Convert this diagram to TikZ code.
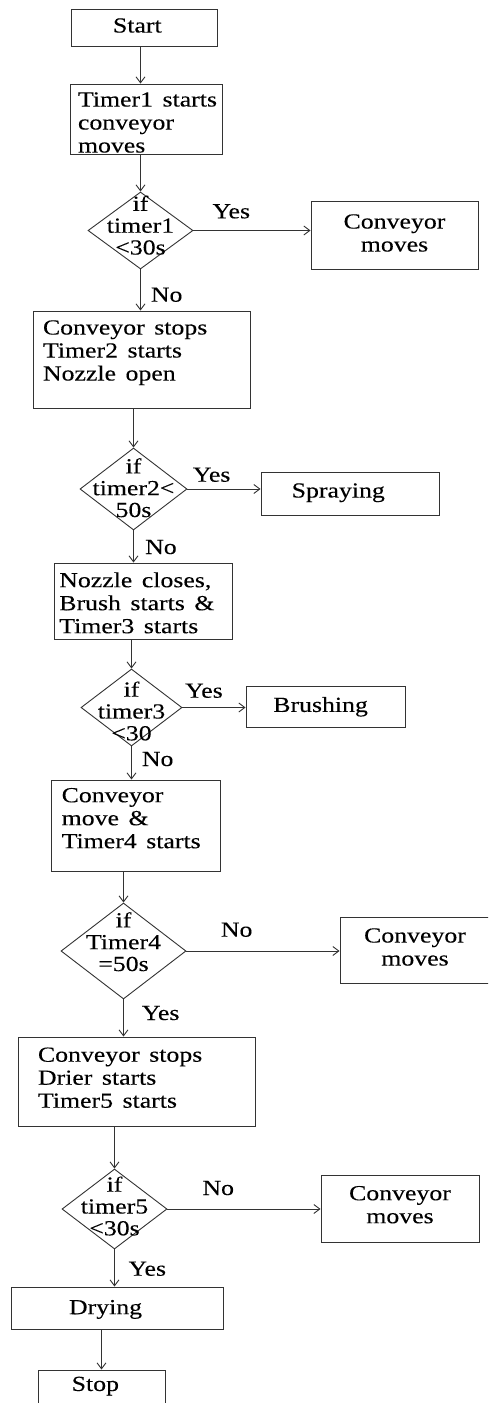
\documentclass[tikz,border=0pt]{standalone}
\usepackage{fontspec}
\setmainfont{Liberation Serif}[FakeStretch=1.2,FakeBold=0.15]
\usetikzlibrary{shapes.geometric,arrows.meta}
% #1 width, #2 alignment (l/c), #3 text, #4 vertical raise
\newcommand\boxtext[4]{\raisebox{#4}[0pt][0pt]{\makebox[#1][#2]{\spaceskip=9.5pt\relax\begin{tabular}[c]{@{}#2@{}}#3\end{tabular}}}}
\newcommand\dtext[2]{\raisebox{#2}[0pt][0pt]{\makebox[0pt][c]{\renewcommand\arraystretch{0.95}\begin{tabular}[c]{@{}c@{}}#1\end{tabular}}}}
\tikzset{
  every node/.style={font=\fontsize{21.5}{23}\selectfont, text=black},
  proc/.style={draw=black!80, line width=0.9pt, rectangle, inner ysep=0pt},
  dec/.style={draw=black!80, line width=0.9pt, diamond, inner sep=0pt},
  arr/.style={draw=black!80, line width=0.9pt, -{Straight Barb[length=6pt,width=9pt]}},
  lab/.style={anchor=base west, inner sep=0pt},
}
\begin{document}
\begin{tikzpicture}[x=1pt,y=-1pt]
\clip (0,0) rectangle (488,1403);
\fill[white] (0,0) rectangle (488,1403);

% process boxes
\node[proc, inner xsep=42pt, minimum width=146pt, minimum height=37pt] (start) at (144,27.5) {\boxtext{62pt}{l}{Start}{-5.6pt}};
\node[proc, inner xsep=8pt, minimum width=152pt, minimum height=70pt] (t1) at (146,119) {\boxtext{136pt}{l}{Timer1 starts\\conveyor\\moves}{-11.1pt}};
\node[proc, inner xsep=0pt, minimum width=167pt, minimum height=68pt] (cm1) at (394.5,235) {\boxtext{167pt}{c}{Conveyor\\moves}{-5.6pt}};
\node[proc, inner xsep=10pt, minimum width=217pt, minimum height=97pt] (cs) at (141.5,359.5) {\boxtext{197pt}{l}{Conveyor stops\\Timer2 starts\\Nozzle open}{1.4pt}};
\node[proc, inner xsep=30.7pt, minimum width=178pt, minimum height=43pt] (spr) at (350,493.5) {\boxtext{116.6pt}{l}{Spraying}{-4.6pt}};
\node[proc, inner xsep=5.3pt, minimum width=178pt, minimum height=76pt] (nc) at (143,601) {\boxtext{167.4pt}{l}{Nozzle closes,\\Brush starts \&\\Timer3 starts}{-9.8pt}};
\node[proc, inner xsep=27.3pt, minimum width=159pt, minimum height=41pt] (br) at (325.5,706.5) {\boxtext{104.4pt}{l}{Brushing}{-6pt}};
\node[proc, inner xsep=10.7pt, minimum width=169pt, minimum height=91pt] (cm2) at (135.5,825.5) {\boxtext{147.6pt}{l}{Conveyor\\move \&\\Timer4 starts}{-0.3pt}};
\node[proc, inner xsep=0pt, minimum width=150pt, minimum height=66pt] (cm4) at (415,950) {\boxtext{150pt}{c}{Conveyor\\moves}{-4.6pt}};
\node[proc, inner xsep=20pt, minimum width=237pt, minimum height=89pt] (ds) at (136.5,1081.5) {\boxtext{197pt}{l}{Conveyor stops\\Drier starts\\Timer5 starts}{-3.8pt}};
\node[proc, inner xsep=0pt, minimum width=158pt, minimum height=67pt] (cm5) at (400,1208.5) {\boxtext{150pt}{c}{Conveyor\\moves}{-3.8pt}};
\node[proc, inner xsep=58pt, minimum width=212pt, minimum height=42pt] (dry) at (117,1308) {\boxtext{96pt}{l}{Drying}{-6.8pt}};
\node[proc, inner xsep=33.7pt, minimum width=127pt, minimum height=42pt] (stop) at (101.5,1391) {\boxtext{59.6pt}{l}{Stop}{-0.5pt}};

% decisions
\node[dec, minimum width=105pt, minimum height=77pt] (d1) at (140.5,230.5) {\dtext{if\\timer1\\<30s}{-3pt}};
\node[dec, minimum width=107pt, minimum height=82pt] (d2) at (133.5,489) {\dtext{if\\timer2<\\50s}{-7pt}};
\node[dec, minimum width=101pt, minimum height=77pt] (d3) at (131.5,707.5) {\dtext{if\\timer3\\<30}{-11.8pt}};
\node[dec, minimum width=125pt, minimum height=96pt] (d4) at (123.5,951) {\dtext{if\\Timer4\\=50s}{1pt}};
\node[dec, minimum width=105pt, minimum height=80pt] (d5) at (114.5,1209) {\dtext{if\\timer5\\<30s}{-5.3pt}};

% connectors
\draw[arr] (start.south -| d1.north) -- (t1.north -| d1.north);
\draw[arr] (t1.south -| d1.north) -- (d1.north);
\draw[arr] (d1.east) -- (cm1.west |- d1.east);
\draw[arr] (d1.south) -- (cs.north -| d1.south);
\draw[arr] (cs.south -| d2.north) -- (d2.north);
\draw[arr] (d2.east) -- (spr.west |- d2.east);
\draw[arr] (d2.south) -- (nc.north -| d2.south);
\draw[arr] (nc.south -| d3.north) -- (d3.north);
\draw[arr] (d3.east) -- (br.west |- d3.east);
\draw[arr] (d3.south) -- (cm2.north -| d3.south);
\draw[arr] (cm2.south -| d4.north) -- (d4.north);
\draw[arr] (d4.east) -- (cm4.west |- d4.east);
\draw[arr] (d4.south) -- (ds.north -| d4.south);
\draw[arr] (ds.south -| d5.north) -- (d5.north);
\draw[arr] (d5.east) -- (cm5.west |- d5.east);
\draw[arr] (d5.south) -- (dry.north -| d5.south);
\draw[arr] (dry.south -| stop.north) -- (stop.north);

% branch labels
\node[lab] (y1) at (212.3,218.3) {Yes};
\node[lab] (n1) at (150.7,301.7) {No};
\node[lab] (y2) at (192.7,481.7) {Yes};
\node[lab] (n2) at (145,554) {No};
\node[lab] (y3) at (185,697.7) {Yes};
\node[lab] (n3) at (141.7,766) {No};
\node[lab] (n4) at (220.7,936.7) {No};
\node[lab] (y4) at (141.7,1020) {Yes};
\node[lab] (n5) at (202.3,1195) {No};
\node[lab] (y5) at (128.3,1275.7) {Yes};
\end{tikzpicture}
\end{document}
